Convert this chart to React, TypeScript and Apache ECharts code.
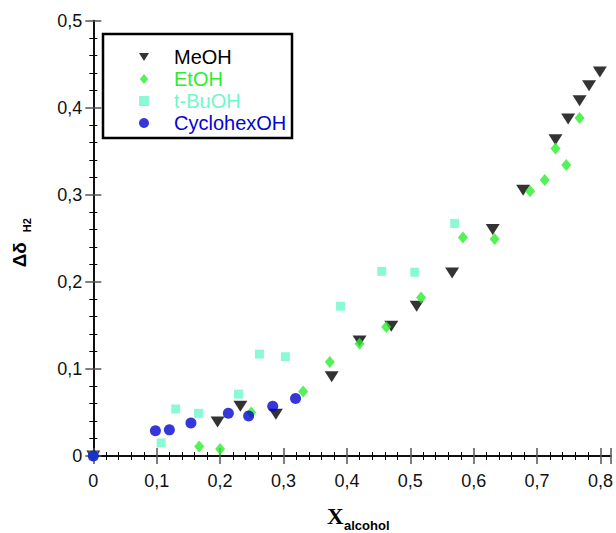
import React, { useEffect, useRef } from "react";
import * as echarts from "echarts";

const seriesNames = ["MeOH", "EtOH", "t-BuOH", "CyclohexOH"];

const meohX = [0, 0.196, 0.232, 0.288, 0.376, 0.42, 0.47, 0.51, 0.566, 0.63, 0.678, 0.729, 0.749, 0.767, 0.782, 0.799];
const meohY = [0, 0.039, 0.057, 0.048, 0.091, 0.132, 0.149, 0.172, 0.21, 0.26, 0.305, 0.363, 0.387, 0.408, 0.425, 0.441];

const etohX = [0, 0.167, 0.2, 0.249, 0.331, 0.373, 0.42, 0.462, 0.517, 0.583, 0.633, 0.689, 0.712, 0.729, 0.746, 0.767];
const etohY = [0, 0.011, 0.008, 0.05, 0.074, 0.108, 0.129, 0.148, 0.182, 0.251, 0.249, 0.304, 0.317, 0.353, 0.334, 0.388];

const tbuohX = [0, 0.107, 0.13, 0.166, 0.229, 0.262, 0.303, 0.39, 0.455, 0.507, 0.57];
const tbuohY = [0, 0.015, 0.054, 0.049, 0.071, 0.117, 0.114, 0.172, 0.212, 0.211, 0.267];

const cycloX = [0, 0.098, 0.12, 0.154, 0.213, 0.245, 0.283, 0.319];
const cycloY = [0, 0.029, 0.03, 0.038, 0.049, 0.046, 0.057, 0.066];

const colors = ["#000000", "#2cee2c", "#70f8c8", "#0505d0"];

const zip = (xs: number[], ys: number[]) => xs.map((x, i) => [x, ys[i]]);

const fmt = (v: number) => (Math.abs(v) < 1e-9 ? "0" : v.toFixed(1).replace(".", ","));

const TRI = "path://M0,0L14,0L7,11Z";
const DIAMOND = "path://M5,0L10,6L5,12L0,6Z";
const SQUARE = "path://M0,0L9,0L9,9L0,9Z";

export default function App() {
  const ref = useRef<HTMLDivElement>(null);
  useEffect(() => {
    if (!ref.current) return;
    const chart = echarts.init(ref.current, undefined, { renderer: "svg" });
    const FONT = "Liberation Sans, Arial, sans-serif";
    const frameAxisCommon = {
      axisLine: { show: true, lineStyle: { color: "#000", width: 1.5 } },
      axisTick: { show: true, inside: true, length: 8, lineStyle: { color: "#555", width: 1.5 } },
      minorTick: { show: true, splitNumber: 5, length: 4, lineStyle: { color: "#000", width: 1 } },
      splitLine: { show: false },
      minorSplitLine: { show: false },
    };
    chart.setOption({
      animation: false,
      backgroundColor: "#fff",
      grid: { left: 93.3, right: 3.3, top: 20.5, bottom: 77, containLabel: false },
      xAxis: [
        {
          type: "value",
          min: 0,
          max: 0.8163,
          interval: 0.1,
          position: "bottom",
          ...frameAxisCommon,
          axisLabel: {
            show: true,
            margin: 16,
            fontSize: 18,
            fontFamily: FONT,
            color: "#111",
            showMaxLabel: false,
            formatter: (v: number) => fmt(v),
          },
        },
        {
          type: "value",
          min: 0,
          max: 0.8163,
          interval: 0.1,
          position: "top",
          ...frameAxisCommon,
          axisLabel: { show: false },
        },
      ],
      yAxis: [
        {
          type: "value",
          min: 0,
          max: 0.5,
          interval: 0.1,
          position: "left",
          ...frameAxisCommon,
          name: "{a|Δδ}{b|H2}",
          nameLocation: "middle",
          nameRotate: 90,
          nameGap: 61,
          nameTextStyle: {
            padding: [0, 9, 0, 0],
            rich: {
              a: {
                fontSize: 19,
                fontWeight: "bold",
                fontFamily: FONT,
                color: "#000",
                lineHeight: 26,
                verticalAlign: "middle",
              },
              b: {
                fontSize: 11,
                fontWeight: "bold",
                fontFamily: FONT,
                color: "#000",
                lineHeight: 12,
                verticalAlign: "bottom",
                padding: [0, 0, 0, 10],
              },
            },
          },
          axisLabel: {
            show: true,
            margin: 11,
            fontSize: 18,
            fontFamily: FONT,
            color: "#111",
            formatter: (v: number) => fmt(v),
          },
        },
        {
          type: "value",
          min: 0,
          max: 0.5,
          interval: 0.1,
          position: "right",
          ...frameAxisCommon,
          axisLabel: { show: false },
        },
      ],
      legend: {
        show: true,
        orient: "vertical",
        left: 134,
        top: 41,
        itemWidth: 10,
        itemHeight: 10,
        itemGap: 0,
        z: 10,
        textStyle: { fontSize: 20, lineHeight: 22, fontFamily: FONT, padding: [0, 0, 0, 20] },
        data: seriesNames.map((n, i) => ({ name: n, textStyle: { color: colors[i] } })),
      },
      graphic: [
        {
          type: "rect",
          z: 5,
          shape: { x: 103, y: 34, width: 189, height: 104 },
          style: { fill: "#fff", stroke: "#000", lineWidth: 2.5 },
        },
        {
          type: "text",
          x: 327,
          y: 516,
          style: {
            text: "X",
            font: "bold 23px 'Liberation Serif', 'Times New Roman', serif",
            fill: "#000",
            verticalAlign: "middle",
            align: "left",
          },
        },
        {
          type: "text",
          x: 344,
          y: 532,
          style: {
            text: "alcohol",
            font: "bold 13px 'Liberation Sans', Arial, sans-serif",
            fill: "#000",
            verticalAlign: "bottom",
            align: "left",
          },
        },
      ],
      series: [
        {
          name: seriesNames[0],
          type: "scatter",
          symbol: TRI,
          symbolSize: [14, 11],
          itemStyle: { color: colors[0] },
          data: zip(meohX, meohY),
        },
        {
          name: seriesNames[1],
          type: "scatter",
          symbol: DIAMOND,
          symbolSize: [10, 12],
          itemStyle: { color: colors[1] },
          data: zip(etohX, etohY),
        },
        {
          name: seriesNames[2],
          type: "scatter",
          symbol: SQUARE,
          symbolSize: 9,
          itemStyle: { color: colors[2] },
          data: zip(tbuohX, tbuohY),
        },
        {
          name: seriesNames[3],
          type: "scatter",
          symbol: "circle",
          symbolSize: 11,
          itemStyle: { color: colors[3] },
          data: zip(cycloX, cycloY),
        },
      ],
    });
    return () => chart.dispose();
  }, []);
  return <div ref={ref} style={{ position: "fixed", left: 0, top: 0, width: 616, height: 533 }} />;
}
